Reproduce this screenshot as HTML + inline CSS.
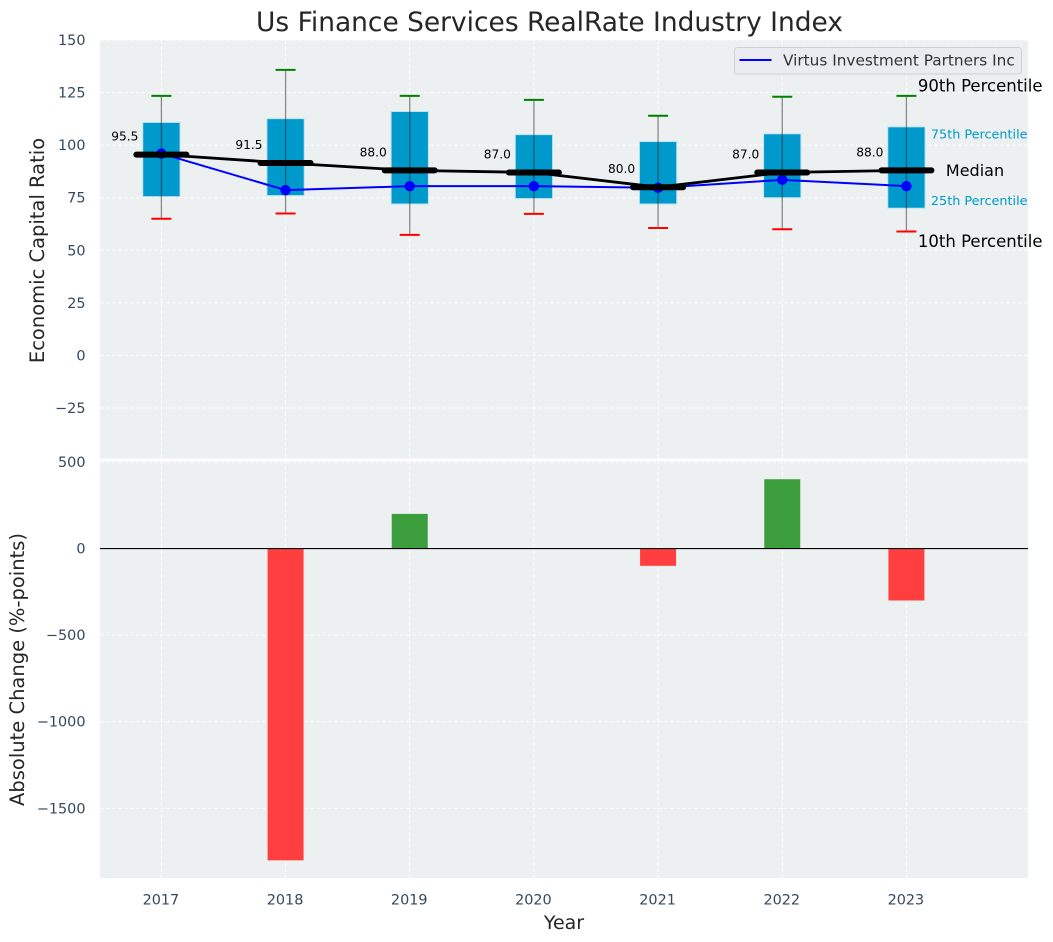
<!DOCTYPE html>
<html>
<head>
<meta charset="utf-8">
<title>Us Finance Services RealRate Industry Index</title>
<style>
html,body{margin:0;padding:0;background:#fff;}
svg{display:block;}
text{font-family:"DejaVu Sans","Liberation Sans",sans-serif;}
</style>
</head>
<body>
<svg id="chart" width="1053" height="942" viewBox="0 0 1053 942" xmlns="http://www.w3.org/2000/svg"></svg>
<script>
const years = [2017, 2018, 2019, 2020, 2021, 2022, 2023];
const p90 = [123.4, 135.8, 123.4, 121.5, 114, 123, 123.4];
const p75 = [110.8, 112.6, 116, 105, 101.7, 105.4, 108.7];
const medians = [95.5, 91.5, 88, 87, 80, 87, 88];
const p25 = [75.5, 76, 72, 74.6, 72, 75, 70];
const p10 = [65, 67.5, 57.3, 67.3, 60.6, 60, 58.9];
const company = [96, 78.6, 80.5, 80.5, 79.7, 83.5, 80.5];
const changes = [0, -1800, 200, 0, -100, 400, -300];
const topTicks = [150, 125, 100, 75, 50, 25, 0, -25];
const bottomTicks = [500, 0, -500, -1000, -1500];
const seriesName = 'Virtus Investment Partners Inc';

const NS = 'http://www.w3.org/2000/svg';
const svg = document.getElementById('chart');
const LEFT = 100, RIGHT = 1028, T1 = 40, B1 = 459.5, T2 = 460, B2 = 878;

function xScale(y) { return 161.4 + (y - 2017) * 124.17; }
function yTop(v) { return B1 - (v + 49.5) * (B1 - T1) / 199.5; }
function yBottom(v) { return B2 - (v + 1902) * (B2 - T2) / 2413; }

function make(tag, attrs, txt) {
  const e = document.createElementNS(NS, tag);
  for (const k in attrs) e.setAttribute(k, attrs[k]);
  if (txt !== undefined) e.textContent = txt;
  svg.appendChild(e);
  return e;
}
let e;

e = make('rect', {x: LEFT, y: T1, width: RIGHT - LEFT, height: B1 - T1, fill: '#ecf0f1'});


e = make('rect', {x: LEFT, y: T2 + 1, width: RIGHT - LEFT, height: B2 - T2 - 1, fill: '#ecf0f1'});



const gridStyle = {stroke: '#ffffff', 'stroke-width': 1, 'stroke-dasharray': '4 2', opacity: 0.85};
topTicks.forEach(function (t) {
  const g = make('line', Object.assign({x1: LEFT, x2: RIGHT, y1: yTop(t), y2: yTop(t)}, gridStyle));
  
  
  const l = make('text', {x: 85.5, y: yTop(t) + 5, 'text-anchor': 'end', 'font-size': 14.4, fill: '#34495e'}, String(t).replace('-', '\u2212'));
  
  
});
bottomTicks.forEach(function (t) {
  const g = make('line', Object.assign({x1: LEFT, x2: RIGHT, y1: yBottom(t), y2: yBottom(t)}, gridStyle));
  
  
  const l = make('text', {x: 85.5, y: yBottom(t) + 5, 'text-anchor': 'end', 'font-size': 14.4, fill: '#34495e'}, String(t).replace('-', '\u2212'));
  
  
});
years.forEach(function (y) {
  const a = make('line', Object.assign({x1: xScale(y), x2: xScale(y), y1: T1, y2: B1}, gridStyle));
  
  
  const b = make('line', Object.assign({x1: xScale(y), x2: xScale(y), y1: T2, y2: B2}, gridStyle));
  
  
  const l = make('text', {x: xScale(y) - 0.5, y: 904.5, 'text-anchor': 'middle', 'font-size': 14.4, fill: '#34495e'}, String(y));
  
  
});

e = make('line', {x1: LEFT, x2: RIGHT, y1: 459.5, y2: 459.5, stroke: '#ffffff', 'stroke-width': 2});



/* boxes */
years.forEach(function (y, i) {
  const cx = xScale(y), w = 37.3;
  const b = make('rect', {x: cx - w / 2, y: yTop(p75[i]), width: w, height: yTop(p25[i]) - yTop(p75[i]), fill: '#0099cc', stroke: '#bfe3ef', 'stroke-width': 1});
  
  
});
/* whiskers and caps */
years.forEach(function (y, i) {
  const cx = xScale(y);
  const w = make('line', {x1: cx, x2: cx, y1: yTop(p90[i]), y2: yTop(p10[i]), stroke: '#1f1f1f', 'stroke-width': 1.3, opacity: 0.5});
  
  
  const c1 = make('line', {x1: cx - 10, x2: cx + 10, y1: yTop(p90[i]), y2: yTop(p90[i]), stroke: '#008000', 'stroke-width': 2});
  
  
  const c2 = make('line', {x1: cx - 10, x2: cx + 10, y1: yTop(p10[i]), y2: yTop(p10[i]), stroke: '#ff0000', 'stroke-width': 2});
  
  
});

/* company line */
e = make('polyline', {points: years.map(function (y, i) { return xScale(y) + ',' + yTop(company[i]); }).join(' '), fill: 'none', stroke: '#0000ff', 'stroke-width': 2});


years.forEach(function (y, i) {
  const m = make('circle', {cx: xScale(y), cy: yTop(company[i]), r: 5.2, fill: '#0000ff'});
  
  
});

/* median line */
e = make('polyline', {points: years.map(function (y, i) { return xScale(y) + ',' + yTop(medians[i]); }).join(' '), fill: 'none', stroke: '#000000', 'stroke-width': 2.8});


years.forEach(function (y, i) {
  const cx = xScale(y), cy = yTop(medians[i]);
  const m = make('line', {x1: cx - 25, x2: cx + 25, y1: cy, y2: cy, stroke: '#000000', 'stroke-width': 6, 'stroke-linecap': 'round'});
  
  
  const l = make('text', {x: cx - 23, y: cy - 14, 'text-anchor': 'end', 'font-size': 12.2, fill: '#000000'}, medians[i].toFixed(1));
  
  
});

/* bottom bars */
years.forEach(function (y, i) {
  if (changes[i] === 0) return;
  const cx = xScale(y), w = 36;
  const y0 = yBottom(0), y1 = yBottom(changes[i]);
  const b = make('rect', {x: cx - w / 2, y: Math.min(y0, y1), width: w, height: Math.abs(y1 - y0), fill: changes[i] < 0 ? '#ff3f3f' : '#3c9e3c'});
  
  
});
e = make('line', {x1: LEFT, x2: RIGHT, y1: yBottom(0), y2: yBottom(0), stroke: '#000000', 'stroke-width': 1.1});



/* percentile annotations, anchored to the last year */
const lastIdx = years.length - 1;
const lastX = xScale(years[lastIdx]);
e = make('text', {x: lastX + 11.5, y: yTop(p90[lastIdx]) - 4.5, 'font-size': 16.5, fill: '#000000'}, '90th Percentile');


e = make('text', {x: lastX + 24.5, y: yTop(p75[lastIdx]) + 11.5, 'font-size': 12.8, fill: '#0099cc'}, '75th Percentile');


e = make('text', {x: lastX + 39.5, y: yTop(medians[lastIdx]) + 5.5, 'font-size': 16, fill: '#000000'}, 'Median');


e = make('text', {x: lastX + 24.5, y: yTop(p25[lastIdx]) - 3, 'font-size': 12.8, fill: '#0099cc'}, '25th Percentile');


e = make('text', {x: lastX + 11.5, y: yTop(p10[lastIdx]) + 15.5, 'font-size': 16.5, fill: '#000000'}, '10th Percentile');



/* legend */
e = make('rect', {x: 734.5, y: 47.5, width: 287, height: 26.5, rx: 3, fill: '#eaecf2', stroke: '#cfd1d6', 'stroke-width': 1});


e = make('line', {x1: 739.5, x2: 771.5, y1: 60, y2: 60, stroke: '#0000ff', 'stroke-width': 2});


e = make('text', {x: 783, y: 65.5, 'font-size': 15.3, fill: '#333333'}, seriesName);



/* titles */
e = make('text', {x: 549.5, y: 31, 'text-anchor': 'middle', 'font-size': 26.45, fill: '#262626'}, 'Us Finance Services RealRate Industry Index');


e = make('text', {x: 564, y: 929, 'text-anchor': 'middle', 'font-size': 19, fill: '#262626'}, 'Year');


e = make('text', {x: 0, y: 0, 'text-anchor': 'middle', 'font-size': 19.5, fill: '#262626', transform: 'translate(44 250.5) rotate(-90)'}, 'Economic Capital Ratio');


e = make('text', {x: 0, y: 0, 'text-anchor': 'middle', 'font-size': 19.5, fill: '#262626', transform: 'translate(24 669.5) rotate(-90)'}, 'Absolute Change (%-points)');


</script>
</body>
</html>
